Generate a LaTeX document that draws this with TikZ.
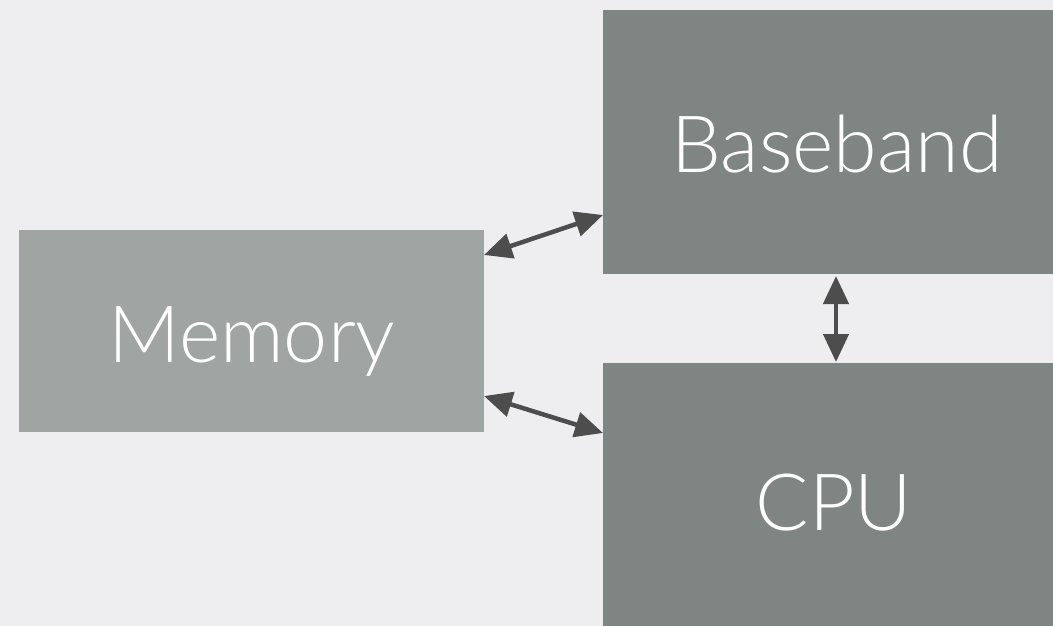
\documentclass[tikz,border=0pt]{standalone}
\usepackage{fontspec}
\setmainfont{Lato Light}
\usetikzlibrary{arrows.meta}
\definecolor{bg}{HTML}{EEEEF0}
\definecolor{memfill}{HTML}{A0A5A3}
\definecolor{blockfill}{HTML}{7F8582}
\definecolor{arrowcol}{HTML}{4D4D4D}
\tikzset{
  block/.style={fill=#1, draw=none},
  label/.style={text=white, font=\fontsize{79}{88}\selectfont, anchor=base, inner sep=0pt},
  link/.style={draw=arrowcol, line width=4.5pt,
    {Triangle[length=28pt,width=25pt]}-{Triangle[length=28pt,width=25pt]}}
}
\begin{document}
\begin{tikzpicture}[x=1pt,y=-1pt]
  % canvas
  \fill[bg] (0,0) rectangle (1053,626);
  \useasboundingbox (0,0) rectangle (1053,626);
  % blocks
  \fill[block=memfill] (19,230) rectangle (484,432);
  \fill[block=blockfill] (603,10) rectangle (1053,274);
  \fill[block=blockfill] (603,363) rectangle (1053,626);
  % anchor points on block edges
  \coordinate (memTop) at (484,255);
  \coordinate (memBot) at (484,396);
  \coordinate (bbLeft) at (603,215);
  \coordinate (cpuLeft) at (603,433);
  \coordinate (bbBot) at (836,276);
  \coordinate (cpuTop) at (836,362);
  % labels
  \node[label] (mem) at (252,362) {Memory};
  \node[label] (bb) at (837,172) {Baseband};
  \node[label] (cpu) at (834,530) {CPU};
  % links
  \draw[link] (memTop) -- (bbLeft);
  \draw[link] (memBot) -- (cpuLeft);
  \draw[link] (bbBot) -- (cpuTop);
\end{tikzpicture}
\end{document}
